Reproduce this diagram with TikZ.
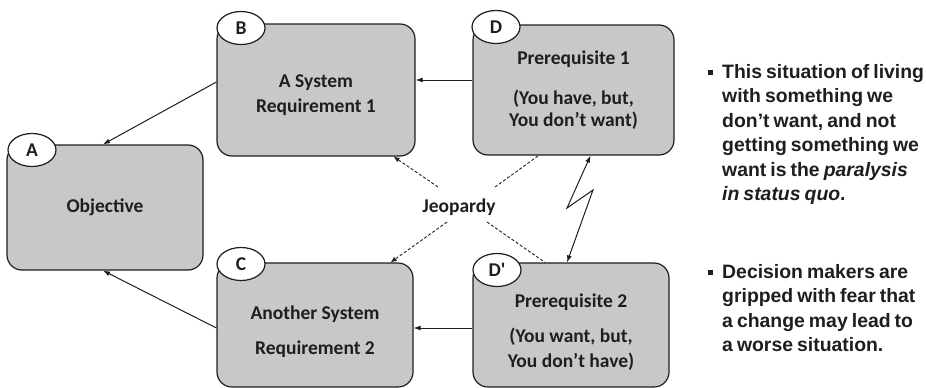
\documentclass[tikz,border=0pt]{standalone}
\usepackage{fontspec}
\usetikzlibrary{shapes.geometric,arrows.meta}
\newfontfamily\boxfont{Carlito}
\newfontfamily\notefont{Liberation Sans}[WordSpace=0.75]
\definecolor{boxgray}{RGB}{200,200,200}
\definecolor{inkgray}{RGB}{30,30,30}
\tikzset{
  stage/.style={draw=inkgray, fill=boxgray, line width=1.2pt, rounded corners=15pt,
    align=center, text=inkgray, font=\boxfont\bfseries\fontsize{19.5}{24}\selectfont},
  badge/.style={ellipse, draw=inkgray, fill=white, line width=1.2pt, minimum width=48pt,
    minimum height=33pt, inner sep=0pt, text=inkgray, font=\boxfont\bfseries\fontsize{19.5}{24}\selectfont},
  flow/.style={-{Latex[length=7pt,width=5pt]}, line width=1pt, draw=inkgray},
  risk/.style={dash pattern=on 3pt off 2pt, line width=0.9pt, draw=inkgray},
  notetext/.style={align=left, anchor=north west, inner sep=0pt, text=inkgray,
    font=\notefont\bfseries\fontsize{19.4}{24.5}\selectfont},
  bulletmark/.style={fill=inkgray, minimum size=5pt, inner sep=0pt}
}
\begin{document}
\begin{tikzpicture}[x=1pt, y=-1pt]
    \useasboundingbox (0,0) rectangle (926,388);

    % Boxes
    \node[stage, minimum width=196pt, minimum height=125pt] (A) at (105,207.5) {Objective};
    \node[stage, minimum width=198pt, minimum height=132pt] (B) at (316,90) {\rule{0pt}{24pt}A System\\[1pt] Requirement 1};
    \node[stage, minimum width=196pt, minimum height=124pt] (C) at (315,325) {\rule{0pt}{28pt}Another System\\[11pt] Requirement 2};
    \node[stage, minimum width=201pt, minimum height=130pt] (D) at (573.5,90) {Prerequisite 1\\[16pt] (You have, but,\\[-2pt] You don’t want)};
    \node[stage, minimum width=196pt, minimum height=124pt] (Dp) at (571,325) {\rule{0pt}{28pt}Prerequisite 2\\[11pt] (You want, but,\\[1pt] You don’t have)};

    % Letters
    \node[badge] (tagA) at (32,150) {A};
    \node[badge] (tagB) at (241,28) {B};
    \node[badge] (tagC) at (241,264) {C};
    \node[badge] (tagD) at (496,27) {D};
    \node[badge] (tagDp) at (497,270) {D\textquotesingle};

    % Arrows
    \draw[flow] ([yshift=10pt]D.west) -- ([yshift=10pt]B.east);
    \draw[flow] ([yshift=-3pt]Dp.west) -- ([yshift=-3pt]C.east);
    \draw[flow] ([yshift=8pt]B.west) -- ([xshift=-2pt]A.north);
    \draw[flow] ([yshift=-3pt]C.west) -- ([xshift=-2pt]A.south);

    % Jeopardy
    \node[text=inkgray, font=\boxfont\bfseries\fontsize{19.5}{24}\selectfont] (jeop) at (459,207) {Jeopardy};
    \draw[risk, -{Latex[length=6pt,width=5pt]}] ([shift={(-21,-20)}]jeop.center) -- ([xshift=-22pt]B.south east);
    \draw[risk, -{Latex[length=6pt,width=5pt]}] ([shift={(-12,15)}]jeop.center) -- ([xshift=-23pt]C.north east);
    \draw[risk] ([shift={(36,-20)}]jeop.center) -- ([xshift=-35pt]D.south);
    \draw[risk] ([shift={(28,15)}]jeop.center) -- ([xshift=-26pt]Dp.north);

    % Conflict
    \draw[line width=1pt, draw=inkgray, {Latex[length=7pt,width=5pt]}-{Latex[length=7pt,width=5pt]}]
        ([xshift=17pt]D.south) -- (567,208) -- (593,190) -- ([xshift=-4pt]Dp.north);

    % Notes
    \node[bulletmark] (mark1) at (710,72) {};
    \node[notetext] (note1) at (722,64) {This situation of living\\ with something we\\ don’t want, and not\\ getting something we\\ want is the \textit{paralysis}\\ \textit{in status quo}.};
    \node[bulletmark] (mark2) at (710,272) {};
    \node[notetext] (note2) at (722,264) {Decision makers are\\ gripped with fear that\\ a change may lead to\\ a worse situation.};
\end{tikzpicture}
\end{document}
